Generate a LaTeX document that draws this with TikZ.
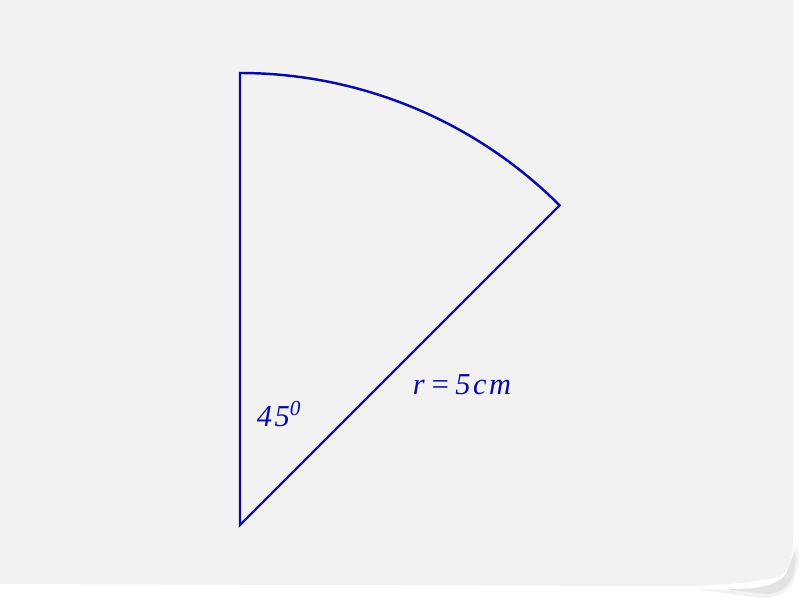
\documentclass[tikz,border=0pt]{standalone}
\usepackage{fontspec}
\setmainfont{Liberation Serif}
\newfontfamily\spacedfont[LetterSpace=8]{Liberation Serif}
\begin{document}
\begin{tikzpicture}[x=0.03cm,y=-0.03cm,
  sectorline/.style={draw=inkblue,line width=2.1pt,line join=miter},
  lbl/.style={text=inkblue,font=\spacedfont\fontsize{26}{30}\selectfont\itshape,inner sep=0pt}]
\definecolor{inkblue}{RGB}{10,10,165}
\definecolor{paper}{RGB}{242,242,242}
\useasboundingbox (0,0) rectangle (800,600);
\fill[white] (0,0) rectangle (800,600);
% soft shadow under curl
\fill[gray!10] (700,589) .. controls (740,591) and (775,588) .. (786,574) -- (798,545) .. controls (800,575) and (793,596) .. (765,598) .. controls (740,596) and (720,592) .. (700,590) -- cycle;
\fill[gray!22] (730,589) .. controls (755,590) and (778,586) .. (786,574) -- (795,550) .. controls (797,575) and (790,592) .. (768,594) .. controls (755,593) and (740,591) .. (730,590) -- cycle;
% paper
\fill[paper] (0,0) -- (793,0) -- (793,540) .. controls (793,562) and (787,572) .. (778,577)
  .. controls (740,585) and (700,587) .. (640,586) -- (0,584) -- cycle;
% sector
\coordinate (O) at (240,525);
\coordinate (T) at (240,73);
\coordinate (R) at (560,206);
\draw[sectorline] (O) -- (T) arc[start angle=-90,end angle=-45,radius=452] -- cycle;
\node[lbl] (rlabel) at (462,385) {r\,=\,5cm};
\node[lbl] (angle) at (279,414) {45$^{\mathit{0}}$};
\end{tikzpicture}
\end{document}
